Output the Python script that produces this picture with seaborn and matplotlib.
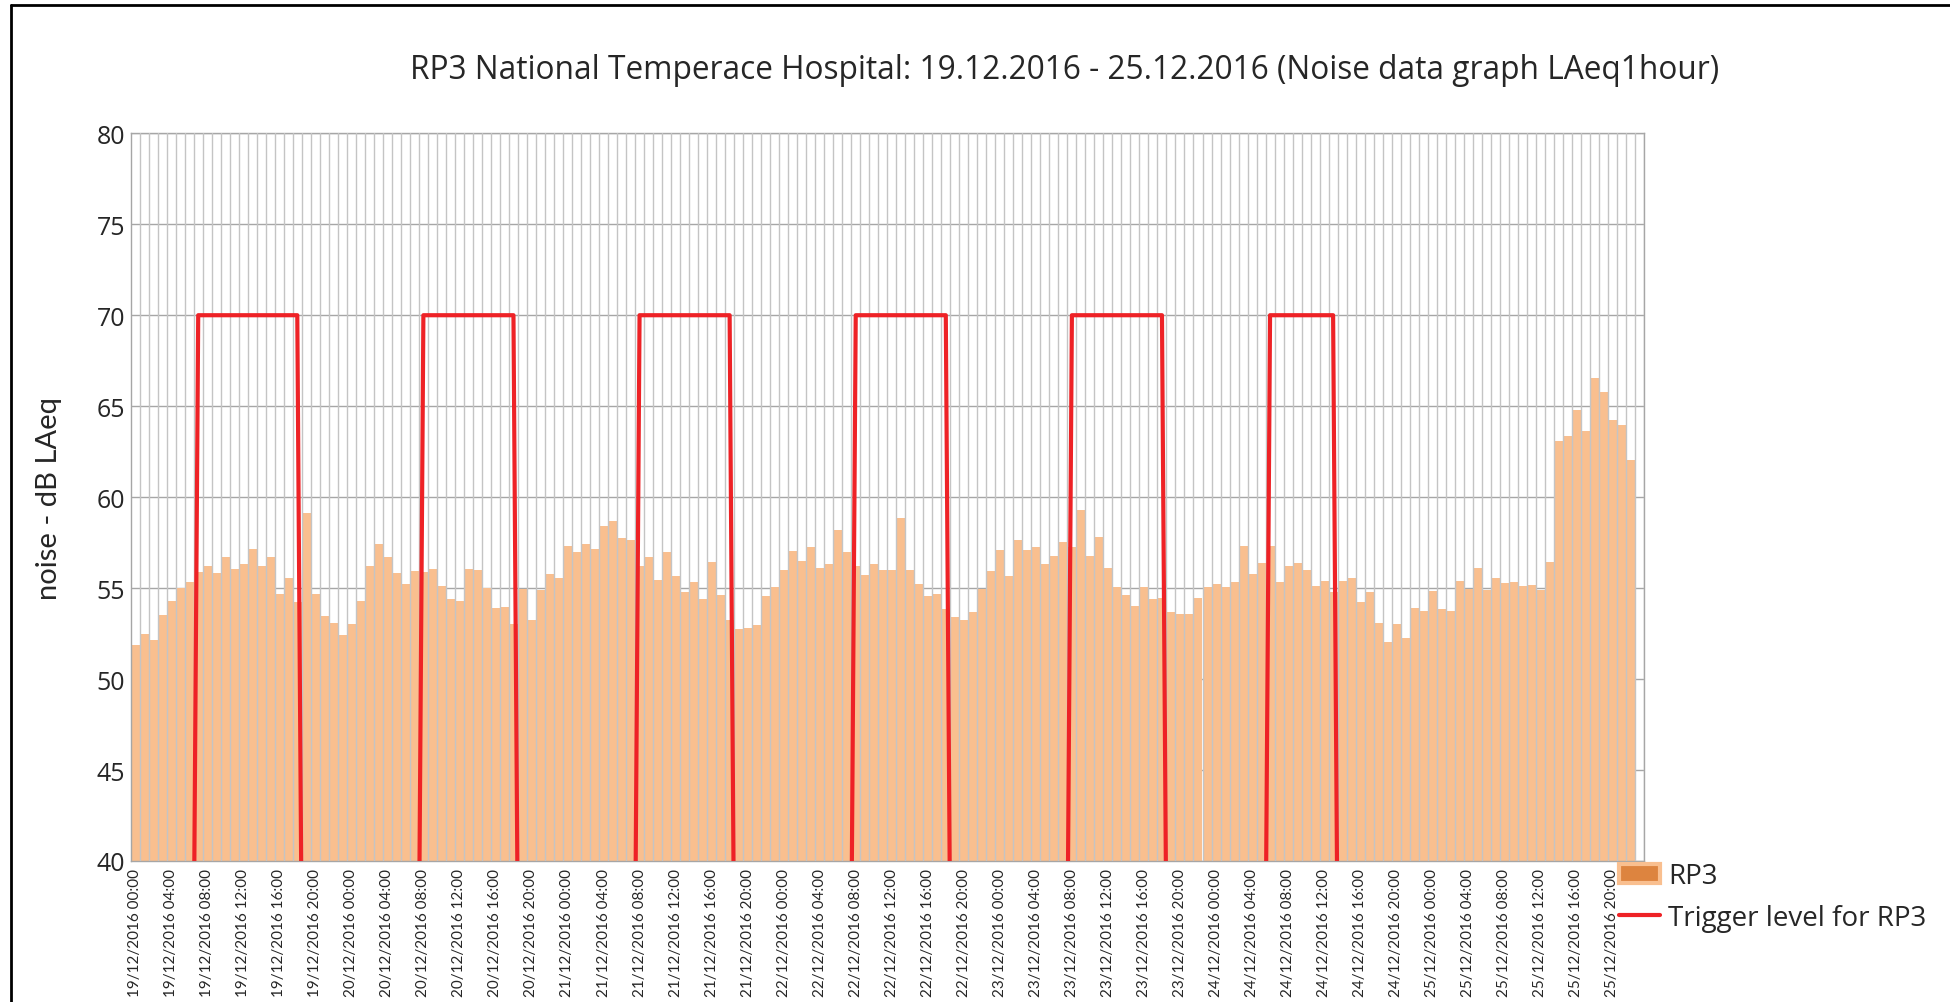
import numpy as np
import pandas as pd
import matplotlib
matplotlib.use("Agg")
import matplotlib.pyplot as plt
import seaborn as sns
from matplotlib.patches import Patch
from matplotlib.lines import Line2D

# hourly slots 19/12/2016 00:00 .. 25/12/2016 23:00
hours = pd.date_range("2016-12-19 00:00", periods=168, freq="h")
hour_labels = [h.strftime("%d/%m/%Y %H:%M") for h in hours]

# RP3 LAeq1hour readings (dB), last slot has no reading
rp3_laeq = [
    51.85, 52.49, 52.12, 53.53, 54.28, 55.00, 55.31, 55.91, 56.19, 55.82, 56.70, 56.06,
    56.30, 57.16, 56.19, 56.73, 54.65, 55.53, 54.23, 59.12, 54.65, 53.47, 53.07, 52.44,
    53.00, 54.28, 56.24, 57.42, 56.70, 55.82, 55.22, 55.93, 55.91, 56.06, 55.11, 54.41,
    54.28, 56.06, 56.00, 55.02, 53.90, 53.96, 53.04, 54.96, 53.27, 54.87, 55.75, 55.58,
    57.31, 57.01, 57.40, 57.16, 58.39, 58.68, 57.76, 57.62, 56.21, 56.70, 55.47, 57.01,
    55.69, 54.76, 55.33, 54.40, 56.41, 54.62, 53.24, 52.74, 52.80, 52.98, 54.56, 55.07,
    55.99, 57.03, 56.50, 57.27, 56.10, 56.33, 58.20, 57.01, 56.20, 55.71, 56.33, 56.00,
    56.00, 58.85, 56.00, 55.22, 54.56, 54.65, 53.87, 53.39, 53.27, 53.68, 54.96, 55.95,
    57.12, 55.64, 57.67, 57.12, 57.25, 56.33, 56.76, 57.53, 57.25, 59.32, 56.79, 57.83,
    56.12, 55.04, 54.64, 54.02, 55.07, 54.41, 54.44, 53.68, 53.57, 53.57, 54.47, 55.04,
    55.20, 55.04, 55.33, 57.34, 55.75, 56.37, 57.34, 55.33, 56.24, 56.37, 55.97, 55.13,
    55.38, 54.78, 55.38, 55.58, 54.26, 54.78, 53.10, 52.01, 53.04, 52.26, 53.89, 53.74,
    54.82, 53.85, 53.74, 55.39, 54.93, 56.09, 54.88, 55.54, 55.28, 55.32, 55.14, 55.17,
    54.88, 56.46, 63.11, 63.35, 64.81, 63.66, 66.55, 65.76, 64.23, 63.99, 62.05, np.nan,
]

# trigger level: 70 dB during working hours, 0 otherwise
trigger_on = [(7, 18), (32, 42), (56, 66), (80, 90), (104, 114), (126, 133)]
trigger = np.zeros(168)
for a, b in trigger_on:
    trigger[a:b + 1] = 70

df = pd.DataFrame({"hour": hour_labels, "laeq": rp3_laeq, "trigger": trigger})

sns.set_style("white")
plt.rcParams["font.family"] = ["Open Sans", "DejaVu Sans"]
narrow = ["Lato", "DejaVu Sans"]

fig = plt.figure(figsize=(19.5, 10.03), dpi=100)
ax = fig.add_axes([0.067, 0.1406, 0.776, 0.7255])

sns.barplot(data=df, x="hour", y="laeq", order=hour_labels, color="#F9BF8F",
            saturation=1, width=1.0, ax=ax, zorder=2, linewidth=0)
sns.lineplot(x=np.arange(168), y=df["trigger"], color="#EE2226", linewidth=3,
             sort=False, estimator=None, ax=ax, zorder=4)

ax.set_ylim(40, 80)
ax.set_xlim(-0.5, 167.5)
ax.set_yticks(np.arange(40, 81, 5))
ax.yaxis.grid(True, color="#A6A6A6", linewidth=1.0, zorder=0)
ax.set_axisbelow(True)

# vertical gridlines between hourly slots
for xb in np.arange(168) + 0.5:
    ax.axvline(xb, color="#C4C4C4", linewidth=1.0, zorder=3)

ticks = np.arange(0, 168, 4)
ax.set_xticks(ticks)
ax.set_xticklabels([hour_labels[i] for i in ticks], rotation=90,
                   family=narrow, fontsize=11)
ax.set_xticks(np.arange(168) - 0.5, minor=True)
ax.tick_params(axis="x", which="major", length=0, pad=5)
ax.tick_params(axis="x", which="minor", direction="in", length=6, color="#909090", width=1)
ax.tick_params(axis="y", length=8, color="#A6A6A6", labelsize=18, pad=-4)

for s in ax.spines.values():
    s.set_color("#A6A6A6")
    s.set_linewidth(1.0)

ax.set_xlabel("")
ax.set_ylabel("noise - dB LAeq", family=narrow, fontsize=21)
ax.yaxis.set_label_coords(-0.0454, 0.5)

fig.text(0.546, 0.930,
         "RP3 National Temperace Hospital: 19.12.2016 - 25.12.2016 (Noise data graph LAeq1hour)",
         ha="center", va="center", fontsize=22.8)

handles = [Patch(facecolor="#DD843F", edgecolor="#F9BF8F", linewidth=3),
           Line2D([0], [0], color="#EE2226", linewidth=3)]
fig.legend(handles, ["RP3", "Trigger level for RP3"], loc="upper left",
           bbox_to_anchor=(0.83, 0.1396), frameon=False, fontsize=20,
           handlelength=1.5, handletextpad=0.3, labelspacing=0.5,
           borderpad=0, borderaxespad=0)

# outer frame lines
fig.add_artist(Line2D([0.0056, 0.0056], [0, 0.994], color="black", linewidth=2))
fig.add_artist(Line2D([0.0056, 1], [0.994, 0.994], color="black", linewidth=2))

fig.savefig("out.png", dpi=100)
